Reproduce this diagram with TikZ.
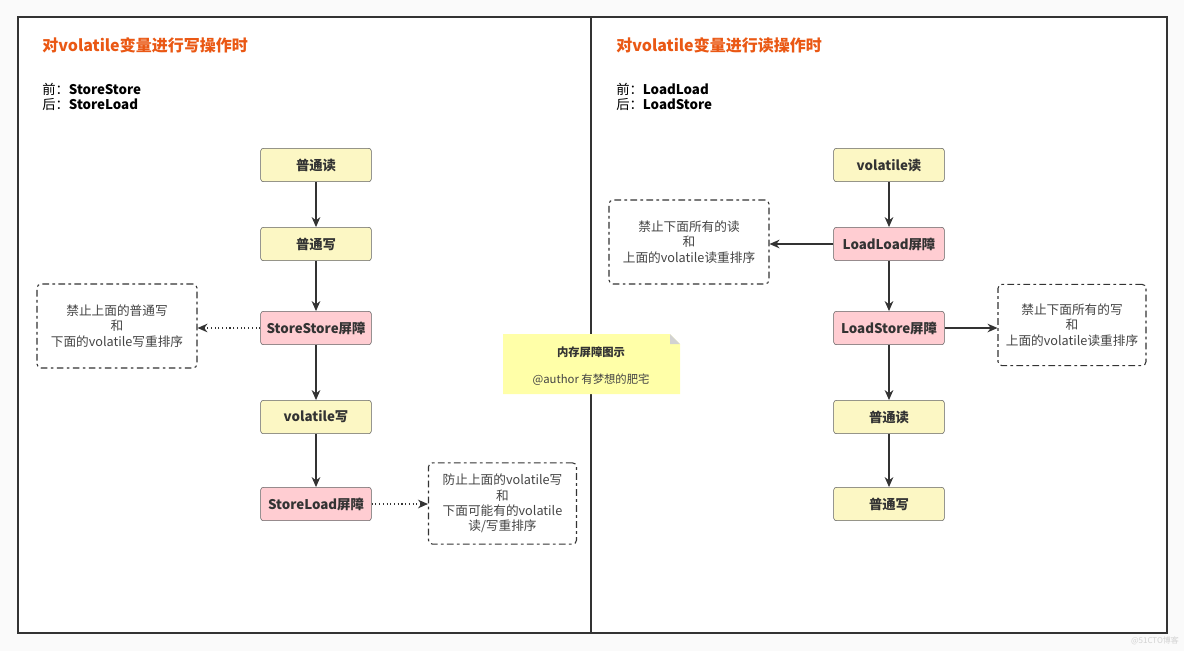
\documentclass[tikz,border=0pt]{standalone}
\usepackage{fontspec}
\setmainfont{Noto Sans CJK SC}
\usepackage{tikz}
\usetikzlibrary{arrows.meta}

\definecolor{titleorange}{RGB}{234,88,20}
\definecolor{boxyellow}{RGB}{252,247,196}
\definecolor{boxpink}{RGB}{255,205,210}
\definecolor{noteyellow}{RGB}{255,255,168}
\definecolor{darkline}{RGB}{51,51,51}
\definecolor{textgray}{RGB}{68,68,68}

\tikzset{
  stepbox/.style={draw=gray!75!black, rounded corners=2pt, minimum width=83pt, minimum height=25pt,
    inner sep=0pt, font=\fontsize{10}{12}\selectfont\bfseries, text=darkline},
  readbox/.style={stepbox, fill=boxyellow},
  fencebox/.style={stepbox, fill=boxpink},
  rulebox/.style={draw=darkline, line width=0.8pt, rounded corners=3pt,
    dash pattern=on 5pt off 2.5pt on 2pt off 2.5pt,
    align=center, inner sep=0pt, text=textgray, font=\fontsize{9.5}{11.5}\selectfont},
  flow/.style={darkline, line width=0.8pt, -{Stealth[length=7.5pt,width=6.5pt]}},
  side/.style={flow, dotted},
  header/.style={anchor=west, inner sep=0pt, font=\fontsize{10}{12}\selectfont, text=black},
  title/.style={anchor=west, inner sep=0pt, font=\fontsize{12}{14}\selectfont\bfseries, text=titleorange},
}

\begin{document}
\begin{tikzpicture}[x=0.75pt,y=0.75pt,yscale=-1,xscale=1]
\useasboundingbox (0,0) rectangle (1184,651);
\fill[gray!4] (0,0) rectangle (1184,651);

% frame and divider
\fill[white] (18,17) rectangle (1167,633);
\draw[darkline, line width=1.1pt] (18,17) rectangle (1167,633);
\draw[darkline, line width=1.1pt] (591,17) -- (591,633);

% left panel: write
\draw (42,45) node [title] (wtitle) {对volatile变量进行写操作时};
\draw (42,89) node [header] (wpre) {前：\textbf{StoreStore}};
\draw (42,104) node [header] (wpost) {后：\textbf{StoreLoad}};

\node [readbox] (wread) at (316,165) {普通读};
\node [readbox] (wwrite) at (316,244) {普通写};
\node [fencebox] (ss) at (316,328) {StoreStore屏障};
\node [readbox] (vwrite) at (316,417) {volatile写};
\node [fencebox] (sl) at (316,504) {StoreLoad屏障};

\node [rulebox, minimum width=120pt, minimum height=63pt] (ssnote) at (117,326)
  {禁止上面的普通写\\和\\下面的volatile写重排序};
\node [rulebox, minimum width=111pt, minimum height=61pt] (slnote) at (502.5,503.5)
  {防止上面的volatile写\\和\\下面可能有的volatile\\读/写重排序};

\draw [flow] (wread) -- (wwrite);
\draw [flow] (wwrite) -- (ss);
\draw [flow] (ss) -- (vwrite);
\draw [flow] (vwrite) -- (sl);
\draw [side] (ss.west) -- (ss.west -| ssnote.east);
\draw [side] (sl.east) -- (sl.east -| slnote.west);

% right panel: read
\draw (616,45) node [title] (rtitle) {对volatile变量进行读操作时};
\draw (616,89) node [header] (rpre) {前：\textbf{LoadLoad}};
\draw (616,104) node [header] (rpost) {后：\textbf{LoadStore}};

\node [readbox] (vread) at (889,165) {volatile读};
\node [fencebox] (ll) at (889,244) {LoadLoad屏障};
\node [fencebox] (ls) at (889,328) {LoadStore屏障};
\node [readbox] (rread) at (889,417) {普通读};
\node [readbox] (rwrite) at (889,504) {普通写};

\node [rulebox, minimum width=120pt, minimum height=63pt] (llnote) at (689,242)
  {禁止下面所有的读\\和\\上面的volatile读重排序};
\node [rulebox, minimum width=111pt, minimum height=61pt] (lsnote) at (1072,325)
  {禁止下面所有的写\\和\\上面的volatile读重排序};

\draw [flow] (vread) -- (ll);
\draw [flow] (ll) -- (ls);
\draw [flow] (ls) -- (rread);
\draw [flow] (rread) -- (rwrite);
\draw [flow] (ll.west) -- (ll.west -| llnote.east);
\draw [flow] (ls.east) -- (ls.east -| lsnote.west);

% note in the middle
\fill [noteyellow] (503,334) -- (670,334) -- (680,344) -- (680,394) -- (503,394) -- cycle;
\fill [gray!35] (670,334) -- (680,344) -- (670,344) -- cycle;
\node [inner sep=0pt, font=\fontsize{8.5}{10}\selectfont\bfseries, text=darkline] (notetitle) at (591,352) {内存屏障图示};
\node [inner sep=0pt, font=\fontsize{8.5}{10}\selectfont, text=textgray] (noteauthor) at (591,380) {@author 有梦想的肥宅};

% watermark
\node [inner sep=0pt, font=\fontsize{6}{7}\selectfont, text=gray!35] (mark) at (1155,641) {@51CTO博客};

\end{tikzpicture}
\end{document}
